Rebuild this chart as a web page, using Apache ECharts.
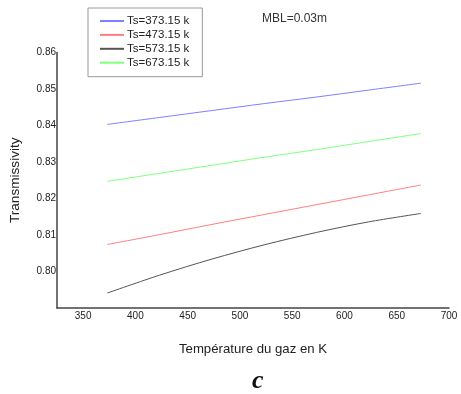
<!DOCTYPE html>
<html>
<head>
<meta charset="utf-8">
<script src="https://cdn.jsdelivr.net/npm/echarts@6/dist/echarts.min.js"></script>
<style>html,body{margin:0;padding:0;background:#fff;}#c{width:461px;height:394px;}</style>
</head>
<body>
<div id="c"></div>
<script>
var gasTemps = [373.15, 423.15, 473.15, 523.15, 573.15, 623.15, 673.15];
var seriesNames = ['Ts=373.15 k', 'Ts=473.15 k', 'Ts=573.15 k', 'Ts=673.15 k'];
var ts373 = [0.8403, 0.8422, 0.8441, 0.8460, 0.8478, 0.8497, 0.8516];
var ts473 = [0.8074, 0.8101, 0.8129, 0.8156, 0.8183, 0.8210, 0.8237];
var ts573 = [0.7941, 0.7990, 0.8034, 0.8073, 0.8107, 0.8136, 0.8159];
var ts673 = [0.8247, 0.8269, 0.8291, 0.8313, 0.8334, 0.8356, 0.8378];
var seriesValues = [ts373, ts473, ts573, ts673];
var seriesColors = ['#7f7fff', '#ff7f7f', '#555555', '#7fff7f'];
var xTickLabels = [350, 400, 450, 500, 550, 600, 650, 700];

var chart = echarts.init(document.getElementById('c'), null, {renderer: 'canvas'});
var font = 'Liberation Sans, Arial, sans-serif';
var series = seriesNames.map(function (name, i) {
  return {
    name: name,
    type: 'line',
    data: gasTemps.map(function (t, j) { return [t, seriesValues[i][j]]; }),
    smooth: 0.3,
    showSymbol: false,
    symbol: 'none',
    lineStyle: {color: seriesColors[i], width: 1},
    itemStyle: {color: seriesColors[i]},
    emphasis: {disabled: true},
    silent: true
  };
});
chart.setOption({
  animation: false,
  backgroundColor: '#fff',
  grid: {left: 57, right: 12, top: 52.5, bottom: 86, containLabel: false, outerBoundsMode: 'none'},
  legend: {
    data: seriesNames,
    orient: 'vertical',
    left: 88,
    top: 8,
    padding: [7, 13, 8, 12],
    itemGap: 1.9,
    itemWidth: 24,
    itemHeight: 2,
    icon: 'rect',
    borderColor: '#999',
    borderWidth: 1,
    backgroundColor: '#fff',
    textStyle: {fontFamily: font, fontSize: 11.5, color: '#222', padding: [0, 0, 0, -2]}
  },
  xAxis: {
    type: 'value',
    min: 325,
    max: 700,
    interval: 25,
    name: 'Température du gaz en K',
    nameLocation: 'middle',
    nameGap: 35,
    nameTextStyle: {fontFamily: font, fontSize: 13.2, color: '#222'},
    axisLine: {show: true, lineStyle: {color: '#444', width: 1.5}},
    axisTick: {show: false},
    splitLine: {show: false},
    axisLabel: {
      fontFamily: font, fontSize: 10, color: '#222', margin: 3,
      showMinLabel: true, showMaxLabel: true,
      formatter: function (v) { return xTickLabels.indexOf(Math.round(v)) >= 0 ? String(Math.round(v)) : ''; }
    }
  },
  yAxis: {
    type: 'value',
    min: 0.79,
    max: 0.86,
    interval: 0.01,
    name: 'Transmissivity',
    nameLocation: 'middle',
    nameGap: 35,
    nameRotate: 90,
    nameTextStyle: {fontFamily: font, fontSize: 13.6, color: '#222'},
    axisLine: {show: true, lineStyle: {color: '#444', width: 1.5}},
    axisTick: {show: false},
    splitLine: {show: false},
    axisLabel: {
      fontFamily: font, fontSize: 10, color: '#222', margin: 1,
      showMinLabel: false,
      formatter: function (v) { return v.toFixed(2); }
    }
  },
  graphic: [
    {type: 'text', left: 262, top: 13, style: {text: 'MBL=0.03m', font: '12px Liberation Sans, Arial, sans-serif', fill: '#333'}},
    {type: 'text', left: 252, top: 368, style: {text: 'c', font: 'italic bold 26px Liberation Serif, Times New Roman, serif', fill: '#111'}}
  ],
  series: series
});
</script>
</body>
</html>
